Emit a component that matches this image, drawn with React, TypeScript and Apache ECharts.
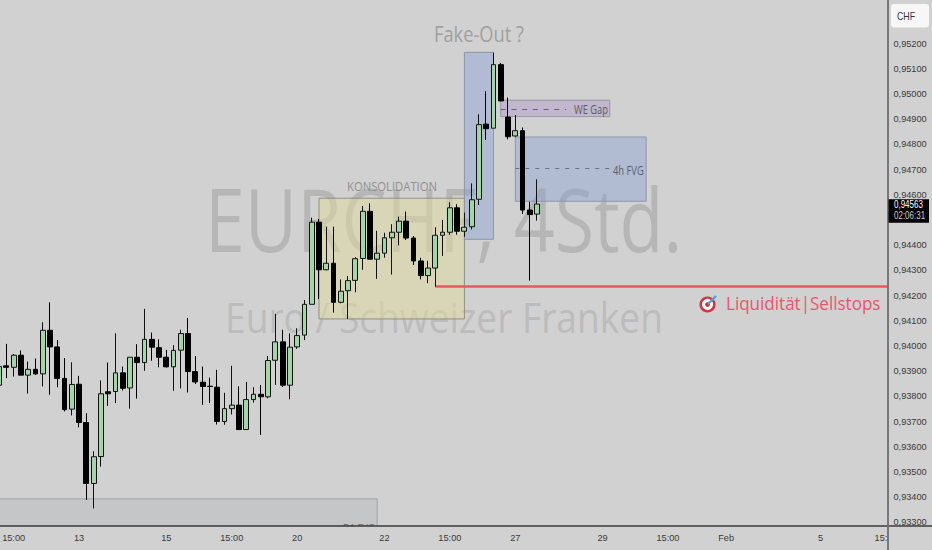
import React, { useEffect, useRef } from "react";
import * as echarts from "echarts";

// [open, close, low, high]
const candles: number[][] = [
  [0.93844, 0.93918, 0.93825, 0.93945],
  [0.93921, 0.93915, 0.93872, 0.94008],
  [0.93915, 0.93963, 0.93878, 0.93968],
  [0.93963, 0.93884, 0.93884, 0.93982],
  [0.93884, 0.93907, 0.93811, 0.93938],
  [0.93907, 0.93889, 0.93885, 0.9395],
  [0.93889, 0.94062, 0.93839, 0.94094],
  [0.94062, 0.93996, 0.93806, 0.94173],
  [0.93996, 0.93871, 0.93836, 0.94023],
  [0.93871, 0.93747, 0.9374, 0.93952],
  [0.93749, 0.93847, 0.93724, 0.93935],
  [0.93848, 0.93696, 0.93677, 0.93881],
  [0.93696, 0.93454, 0.93389, 0.93733],
  [0.93454, 0.9356, 0.93355, 0.93582],
  [0.93561, 0.9381, 0.93521, 0.93863],
  [0.93818, 0.9381, 0.93762, 0.93934],
  [0.93819, 0.93893, 0.93773, 0.9405],
  [0.93893, 0.93832, 0.93823, 0.93918],
  [0.93833, 0.93955, 0.93751, 0.93955],
  [0.93955, 0.93934, 0.93791, 0.94007],
  [0.93934, 0.94026, 0.93901, 0.94147],
  [0.94026, 0.93995, 0.93941, 0.94053],
  [0.93993, 0.93955, 0.93915, 0.94026],
  [0.93955, 0.93917, 0.93914, 0.93984],
  [0.93917, 0.93982, 0.93822, 0.94003],
  [0.93983, 0.94049, 0.93831, 0.94064],
  [0.94049, 0.93898, 0.93815, 0.94111],
  [0.93898, 0.93857, 0.93849, 0.9396],
  [0.93856, 0.93839, 0.93766, 0.93918],
  [0.9384, 0.93839, 0.93773, 0.93874],
  [0.93836, 0.937, 0.93688, 0.93905],
  [0.937, 0.93751, 0.93687, 0.93814],
  [0.93751, 0.93765, 0.93728, 0.93921],
  [0.93765, 0.93668, 0.93668, 0.9384],
  [0.93668, 0.93787, 0.93668, 0.93857],
  [0.93787, 0.93808, 0.93775, 0.93836],
  [0.93808, 0.93798, 0.93647, 0.93845],
  [0.93798, 0.93942, 0.93792, 0.9396],
  [0.93943, 0.94016, 0.93845, 0.94127],
  [0.94016, 0.93844, 0.93837, 0.94064],
  [0.93844, 0.93995, 0.93788, 0.9405],
  [0.93996, 0.94041, 0.93988, 0.9407],
  [0.94043, 0.94165, 0.94023, 0.94182],
  [0.94165, 0.94491, 0.94165, 0.94509],
  [0.94491, 0.94302, 0.94186, 0.94504],
  [0.94302, 0.94328, 0.943, 0.94473],
  [0.94328, 0.94173, 0.94132, 0.94473],
  [0.94173, 0.94217, 0.94169, 0.94264],
  [0.94219, 0.94259, 0.94107, 0.94277],
  [0.9426, 0.94346, 0.94213, 0.94352],
  [0.94347, 0.94534, 0.94302, 0.94555],
  [0.94534, 0.94344, 0.94344, 0.94566],
  [0.94344, 0.94368, 0.94266, 0.94457],
  [0.94368, 0.94429, 0.9435, 0.94449],
  [0.94429, 0.94451, 0.94283, 0.94483],
  [0.94451, 0.94495, 0.94399, 0.94513],
  [0.94495, 0.94428, 0.9442, 0.94533],
  [0.94428, 0.94337, 0.94321, 0.94436],
  [0.94337, 0.94279, 0.94264, 0.9435],
  [0.94279, 0.94309, 0.94249, 0.94338],
  [0.94309, 0.94439, 0.94235, 0.94471],
  [0.94439, 0.94451, 0.94357, 0.945],
  [0.94451, 0.94548, 0.94441, 0.9457],
  [0.94548, 0.94455, 0.94441, 0.94562],
  [0.94455, 0.94471, 0.94433, 0.94529],
  [0.94473, 0.9458, 0.94462, 0.94645],
  [0.94582, 0.94878, 0.94559, 0.94919],
  [0.9488, 0.94862, 0.94817, 0.95011],
  [0.94864, 0.95116, 0.94864, 0.95164],
  [0.95116, 0.94972, 0.94972, 0.95123],
  [0.94908, 0.9483, 0.9482, 0.94985],
  [0.94833, 0.94854, 0.9483, 0.94916],
  [0.94854, 0.94539, 0.94523, 0.94867],
  [0.94539, 0.94521, 0.94259, 0.94572],
  [0.94523, 0.94563, 0.94497, 0.94661],
];

const barCount = 124;
const timeTicks: [number, string][] = [
  [2, "15:00"], [11, "13"], [23, "15"], [32, "15:00"], [41, "20"], [53, "22"], [62, "15:00"],
  [71, "27"], [83, "29"], [92, "15:00"], [100, "Feb"], [113, "5"], [122, "15:00"],
];
const categories: string[] = Array.from({ length: barCount }, () => "");
timeTicks.forEach(([i, t]) => { categories[i] = t; });

// zones: [first bar, last bar, upper price, lower price]
const fakeOutZone = [64, 68, 0.95165, 0.94423];
const weGapZone = [69, 84, 0.94975, 0.9491];
const fvg4hZone = [71, 89, 0.94829, 0.94574];
const consolidationZone = [44, 64, 0.94586, 0.94107];
const fvgD1Zone = [0, 52, 0.93393, 0.93285];

// levels: [first bar, last bar, price]
const weGapMid = [69, 78, 0.94941];
const fvg4hMid = [71, 84, 0.94703];
const liquidityLevel = [60, 123, 0.94236];

const lastPrice = "0,94563";
const countdown = "02:06:31";
const currency = "CHF";

const BG = "#d1d1d1";
const NARROW = '"Liberation Sans", sans-serif';
const SANS = '"Open Sans", sans-serif';

const area = (z: number[], fill: string, border: string) => [
  {
    xAxis: z[0], yAxis: z[2],
    itemStyle: { color: fill, borderColor: border, borderWidth: 1 },
  },
  { xAxis: z[1], yAxis: z[3] },
];
const level = (l: number[], color: string, width: number, type: any) => [
  { xAxis: l[0], yAxis: l[2], lineStyle: { color, width, type } },
  { xAxis: l[1], yAxis: l[2] },
];

const label = (
  text: string, x: number, y: number, size: number, fill: string, scaleX: number, z: number,
  family = SANS, align = "left",
) => ({
  type: "text", x, y, scaleX, z, silent: true,
  style: { text, fill, font: `${size}px ${family}`, textAlign: align, textVerticalAlign: "middle" },
});

export default function App() {
  const ref = useRef<HTMLDivElement>(null);
  useEffect(() => {
    document.body.style.margin = "0";
    const chart = echarts.init(ref.current!, undefined, { renderer: "svg" });
    chart.setOption({
      animation: false,
      backgroundColor: BG,
      grid: { left: -4.53, top: -6.9, width: 901.5, height: 554.4, outerBoundsMode: "none" },
      xAxis: {
        type: "category", data: categories, offset: -21.5, z: 4,
        axisTick: { show: false }, splitLine: { show: false },
        axisLine: { show: false },
        axisLabel: { interval: 0, color: "#3a3a3a", fontSize: 9.2, fontFamily: NARROW, margin: 7 },
      },
      yAxis: {
        type: "value", position: "right", min: 0.932, max: 0.954, interval: 0.001, offset: -9, z: 6,
        scale: true, splitLine: { show: false }, axisTick: { show: false }, axisLine: { show: false },
        axisLabel: {
          color: "#3a3a3a", fontSize: 9.2, fontFamily: NARROW, margin: 5.5,
          formatter: (v: number) =>
            v < 0.9325 || v > 0.9525 || Math.abs(v - 0.945) < 0.0001 ? "" : v.toFixed(5).replace(".", ","),
        },
      },
      series: [
        {
          type: "candlestick", z: 2, barWidth: 5.3, data: candles,
          itemStyle: { color: "#a3d6a7", color0: "#000000", borderColor: "#111111", borderColor0: "#000000", borderWidth: 1 },
          markArea: {
            silent: true, z: 1,
            data: [
              area(fvgD1Zone, "#c4c6c8", "#a3a4a6"),
              area(consolidationZone, "rgba(226,220,160,0.5)", "#8f8f85"),
              area(fakeOutZone, "rgba(133,160,215,0.42)", "#8f96a6"),
              area(weGapZone, "rgba(150,120,200,0.27)", "#9a96a8"),
              area(fvg4hZone, "rgba(133,160,215,0.42)", "#8f96a6"),
            ],
          },
          markLine: {
            silent: true, z: 2, symbol: "none", label: { show: false },
            data: [
              level(weGapMid, "#6a4fc0", 1.1, [5, 5.7]),
              level(fvg4hMid, "#6b7283", 1.1, [4, 6]),
              level(liquidityLevel, "#f0545c", 2.5, "solid"),
            ],
          },
        },
      ],
      graphic: {
        elements: [
          label("EURCHF, 4Std.", 205, 218, 88, "#b6b6b6", 0.815, 0),
          label("Euro / Schweizer Franken", 225, 317, 42, "#bcbcbc", 0.885, 0),
          label("Fake-Out ?", 434, 34, 21, "#a0a0a0", 0.87, 2),
          label("KONSOLIDATION", 347, 186, 12, "#8f8f8f", 0.94, 2),
          label("WE Gap", 574, 108.7, 12, "#5b5b66", 0.78, 2),
          label("4h FVG", 613, 169.5, 12, "#5b6070", 0.78, 2),
          label("Liquidität|Sellstops", 726, 303, 19, "#e8566c", 0.897, 2),
          label("D1 FVG", 343, 528, 11, "#666666", 0.85, 2),
          { type: "circle", z: 2, shape: { cx: 707.5, cy: 304.5, r: 6.8 }, style: { fill: "#fff", stroke: "#d9323c", lineWidth: 2.4 } },
          { type: "circle", z: 2, shape: { cx: 707.5, cy: 304.5, r: 2.4 }, style: { fill: "#d9323c" } },
          { type: "line", z: 2, shape: { x1: 708, y1: 304, x2: 716, y2: 296 }, style: { stroke: "#4aa3d8", lineWidth: 2.4 } },
          { type: "rect", z: 3, shape: { x: 0, y: 526, width: 888, height: 24 }, style: { fill: BG } },
          { type: "rect", z: 5, shape: { x: 888, y: 0, width: 44, height: 550 }, style: { fill: BG } },
          { type: "line", z: 7, shape: { x1: 0, y1: 526, x2: 932, y2: 526 }, style: { stroke: "#3a3a3a", lineWidth: 1.4 } },
          { type: "line", z: 7, shape: { x1: 888, y1: 0, x2: 888, y2: 550 }, style: { stroke: "#6e6e6e", lineWidth: 1.8 } },
          { type: "rect", z: 7, shape: { x: 891, y: 4, width: 38, height: 23.6, r: 3 }, style: { fill: "#f7f7f7" } },
          label(currency, 906, 16, 11, "#333333", 0.8, 8, NARROW, "center"),
          { type: "rect", z: 7, shape: { x: 888.5, y: 199.3, width: 40.5, height: 23.4 }, style: { fill: "#000000" } },
          label(lastPrice, 894, 204.5, 10, "#ffffff", 0.8, 8, NARROW),
          label(countdown, 894, 215.5, 10, "#cfcfcf", 0.8, 8, NARROW),
        ],
      },
    });
    return () => chart.dispose();
  }, []);
  return <div ref={ref} style={{ position: "fixed", left: 0, top: 0, width: 932, height: 550 }} />;
}
